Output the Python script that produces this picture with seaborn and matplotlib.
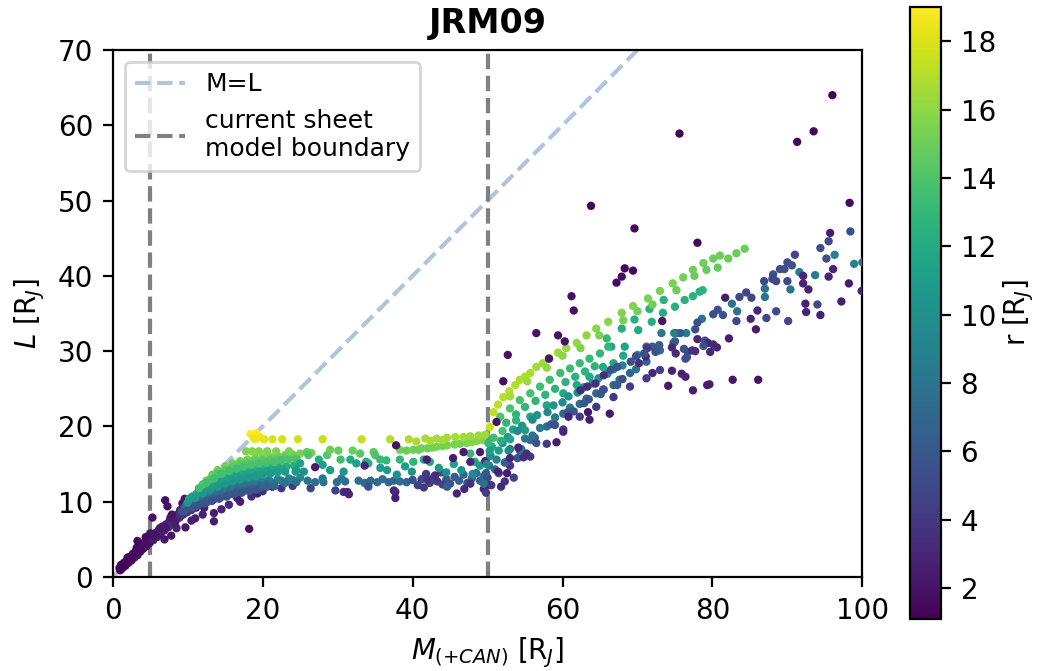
import matplotlib
matplotlib.use("Agg")
import matplotlib.pyplot as plt
import pandas as pd
import seaborn as sns
from matplotlib.colors import Normalize
from matplotlib.cm import ScalarMappable

# ---------------- data (M [RJ], L [RJ], r [RJ]) ----------------
TITLE = "JRM09"
R_MIN, R_MAX = 1.1, 19.0
boundary_M = [5, 50]
ref_line = [0, 70]
x_ticks = [0, 20, 40, 60, 80, 100]
y_ticks = [0, 10, 20, 30, 40, 50, 60, 70]
cbar_ticks = [2, 4, 6, 8, 10, 12, 14, 16, 18]

inner_diag = [(0.9,1.2,1.2),(1.1,1.6,1.3),(1.3,1.2,1.3),(1.5,1.9,1.3),(1.7,1.5,1.4),(1.9,2.3,1.4),
    (2.1,1.9,1.5),(2.3,2.7,1.5),(2.5,2.2,1.6),(2.7,3.1,1.6),(2.9,2.6,1.7),(3.1,3.5,1.7),(3.3,2.9,1.8),
    (3.5,3.9,1.8),(3.7,3.4,1.9),(3.9,4.4,1.9),(4.1,3.8,2.0),(4.3,4.7,2.0),(4.5,4.1,2.1),(4.7,5.0,2.1),
    (4.9,4.5,2.2),(5.1,5.4,2.2),(5.4,4.9,2.3),(5.6,5.8,2.3),(5.9,5.3,2.4),(6.1,6.2,2.4),(6.4,5.8,2.5),
    (6.6,6.7,2.6),(6.9,6.2,2.6),(7.1,7.0,2.7),(7.4,6.6,2.8),(7.6,7.5,2.9),(7.9,7.1,2.9),(8.1,7.9,3.0),
    (8.4,7.5,3.1),(8.6,8.3,3.2),(8.9,7.9,3.3),(9.1,8.7,3.4),(9.4,8.3,3.5),(9.6,9.0,3.6),(9.9,8.6,3.7),
    (10.2,9.4,3.8),(10.5,8.9,3.9),(10.8,9.7,4.1),(11.1,9.2,4.2),(11.4,10.1,4.3),(11.8,9.6,4.4),
    (12.1,10.4,4.5),(12.5,9.9,4.6),(12.9,10.7,4.8),(13.3,10.2,4.9),(13.7,10.9,5.0),
    (1.0,0.9,1.2),(1.4,1.7,1.3),(2.0,2.6,1.4),(2.6,2.7,1.5),(3.2,3.9,1.6),(3.8,3.6,1.7),(4.4,4.5,1.8),
    (5.0,5.8,1.9),(5.7,5.5,2.0),(6.3,6.5,2.1),(7.0,6.5,2.2),(7.7,7.9,2.3),(8.3,7.2,2.4),(9.0,8.9,2.5),
    (9.8,9.2,2.7),(10.6,9.8,2.9),(11.6,10.5,3.1)]

inner_scatter = [(3.3,4.8,1.5),(4.4,5.3,1.6),(5.3,7.9,1.7),(7.0,10.2,1.8),(7.3,9.4,1.9),(7.9,8.3,2.0),
    (9.3,9.8,2.1),(9.6,10.4,2.2),(7.8,5.5,2.2),(6.9,5.0,2.0),(9.7,6.6,2.3),(13.5,8.5,2.6),(13.5,7.4,2.5),
    (12.2,9.2,2.7),(11.0,7.8,2.6),(14.9,12.6,2.6),(15.4,12.2,2.8),(17.8,13.8,2.2),(16.6,10.5,2.5),
    (17.0,10.0,2.6),(19.3,11.1,2.4),(19.5,12.2,2.5),(21.3,12.0,2.3),(18.2,6.4,1.8),(17.7,13.1,2.4),
    (8.5,6.5,2.4),(10.5,7.5,2.6),(12.0,8.3,2.8),(14.5,9.0,3.0),(15.5,9.6,3.2),(16.0,11.2,3.5),
    (18.5,10.7,3.2),(20.0,11.4,3.5),(22.5,11.8,3.8),(24.0,12.1,4.0),(26.4,11.8,4.5)]

fan_green = [(12.5,12.8,15.0),(13.3,13.6,15.0),(14.0,14.2,15.0),(15.0,14.7,15.1),(16.0,15.1,15.1),
    (17.0,15.4,15.2),(18.0,15.6,15.2),(19.0,15.8,15.2),(20.0,15.9,15.3),(21.0,16.0,15.3),(22.0,16.1,15.3),
    (23.0,16.2,15.4),(24.0,16.3,15.4),(25.0,16.4,15.4),(26.5,16.5,15.5),
    (12.0,12.3,14.2),(13.0,13.0,14.2),(14.0,13.7,14.2),(15.0,14.2,14.3),(16.0,14.6,14.3),(17.0,15.0,14.3),
    (18.0,15.2,14.4),(19.0,15.4,14.4),(20.0,15.5,14.4),(21.0,15.6,14.5),(22.0,15.8,14.5),(23.0,15.9,14.5),
    (24.0,16.0,14.6),
    (11.5,11.8,13.5),(12.5,12.5,13.5),(13.5,13.1,13.5),(14.5,13.7,13.6),(15.5,14.1,13.6),(16.5,14.4,13.6),
    (17.5,14.7,13.7),(18.5,14.9,13.7),(19.5,15.1,13.7),(20.5,15.2,13.8),(21.5,15.3,13.8),(22.5,15.5,13.8),
    (23.5,15.6,13.9),(24.5,15.7,13.9)]

fan_teal = [(10.2,10.4,12.0),(11.2,11.1,12.0),(12.2,11.8,12.0),(13.2,12.3,12.1),(14.2,12.8,12.1),
    (15.2,13.2,12.1),(16.2,13.6,12.2),(17.2,13.9,12.2),(18.2,14.1,12.2),(19.2,14.3,12.3),(20.2,14.4,12.3),
    (21.2,14.5,12.3),(22.2,14.6,12.4),(23.2,14.7,12.4),(24.2,14.8,12.4),
    (10.6,10.7,11.2),(11.6,11.3,11.2),(12.6,11.9,11.2),(13.6,12.4,11.3),(14.6,12.8,11.3),(15.6,13.1,11.3),
    (16.6,13.4,11.4),(17.6,13.6,11.4),(18.6,13.8,11.4),(19.6,14.0,11.5),(20.6,14.1,11.5),(21.6,14.2,11.5),
    (22.6,14.4,11.6),
    (10.0,9.9,10.5),(11.0,10.5,10.5),(12.0,11.1,10.5),(13.0,11.6,10.6),(14.0,12.0,10.6),(15.0,12.4,10.6),
    (16.0,12.7,10.7),(17.0,13.0,10.7),(18.0,13.2,10.7),(19.0,13.4,10.8),(20.0,13.6,10.8),(21.0,13.7,10.8),
    (22.0,13.9,10.9),(23.0,14.0,10.9),(24.5,14.2,10.9)]

fan_blue = [(9.8,9.5,9.0),(10.8,10.0,9.0),(11.8,10.5,9.0),(12.8,11.0,9.1),(13.8,11.4,9.1),(14.8,11.8,9.1),
    (15.8,12.1,9.2),(16.8,12.3,9.2),(17.8,12.5,9.2),(18.8,12.7,9.3),(19.8,12.8,9.3),(20.8,12.9,9.3),
    (22.0,13.0,9.4),(23.5,13.1,9.4),(25.0,13.2,9.4),
    (10.0,9.4,8.2),(11.0,9.9,8.2),(12.0,10.3,8.2),(13.0,10.8,8.3),(14.0,11.2,8.3),(15.0,11.5,8.3),
    (16.0,11.8,8.4),(17.0,12.1,8.4),(18.0,12.3,8.4),(19.0,12.4,8.5),(20.0,12.6,8.5),(21.0,12.7,8.5),
    (22.5,12.8,8.6),(24.0,12.9,8.6),
    (9.5,9.1,7.5),(10.5,9.6,7.5),(11.5,10.0,7.5),(12.5,10.4,7.6),(13.5,10.8,7.6),(14.5,11.1,7.6),
    (15.5,11.4,7.7),(16.5,11.7,7.7),(17.5,11.9,7.7),(18.5,12.1,7.8),(19.5,12.2,7.8),(20.5,12.3,7.8),
    (21.5,12.4,7.9),(23.0,12.5,7.9),(24.5,12.6,7.9),
    (9.6,8.8,6.5),(10.6,9.3,6.5),(11.6,9.7,6.5),(12.6,10.1,6.6),(13.6,10.4,6.6),(14.6,10.7,6.6),
    (15.6,11.0,6.7),(16.6,11.3,6.7),(17.6,11.5,6.7),(18.6,11.7,6.8),(19.6,11.9,6.8),(20.6,12.0,6.8),
    (21.6,12.1,6.9),
    (9.2,8.7,5.5),(10.2,9.1,5.5),(11.2,9.5,5.5),(12.2,9.8,5.6),(13.2,10.1,5.6),(14.2,10.4,5.6),
    (15.2,10.7,5.7),(16.2,11.0,5.7),(17.2,11.2,5.7),(18.2,11.4,5.8),(19.2,11.6,5.8)]

plateau_yellow = [(18.4,19.0,18.9),(18.8,18.5,18.7),(19.2,19.1,19.0),(19.6,18.6,18.6),(19.0,18.3,18.5),
    (20.2,18.3,18.2),(21.3,18.3,18.0),(22.6,18.3,17.9),(24.7,18.3,17.7),(28.0,18.3,17.5),(33.2,18.3,17.3),
    (37.0,18.3,17.0),(39.5,18.3,16.9),(40.5,18.0,16.8),(41.7,18.4,16.8),(42.4,18.1,16.7),(43.2,18.4,16.7),
    (44.0,18.2,16.6),(44.6,18.5,16.6),(45.7,18.6,16.5),(46.8,18.6,16.5),(47.7,18.7,16.4),(48.8,18.8,16.4),
    (49.7,18.9,16.3)]

plateau_green = [(17.8,16.7,15.6),(18.6,16.7,15.7),(19.5,16.7,15.6),(20.6,16.7,15.5),(21.8,16.7,15.5),
    (23.5,16.7,15.4),(25.9,16.6,14.5),(26.1,16.2,14.0),(28.6,16.2,14.2),(30.1,16.8,14.8),(30.4,15.6,13.5),
    (33.0,16.4,14.3),(34.8,16.6,14.6),(35.0,16.2,14.0),(34.1,15.1,12.5),(35.7,15.6,13.2),(36.5,15.5,13.0),
    (38.3,15.6,13.0),(40.1,15.3,12.8),(32.0,16.8,14.9),(29.0,16.9,15.0),
    (38.3,16.9,15.2),(39.2,16.8,15.0),(40.1,16.9,15.1),(40.8,16.9,15.0),(41.2,17.1,15.2),(42.0,17.1,15.1),
    (42.6,17.2,15.2),(43.2,17.3,15.3),(44.0,17.4,15.2),(44.6,17.5,15.4),(45.6,17.6,15.5),(46.3,17.7,15.5),
    (47.2,17.8,15.6),(47.9,17.9,15.6),(48.6,18.1,15.7),(49.3,18.2,15.8)]

plateau_teal = [(24.4,14.0,10.5),(25.5,14.0,10.2),(25.0,15.1,11.5),(27.5,15.6,12.2),(29.0,14.2,10.8),
    (30.8,14.0,10.5),(31.7,15.6,12.0),(36.6,14.2,10.8),(35.7,14.5,11.0),(37.9,13.6,10.0),(39.9,14.0,10.3),
    (41.5,15.6,11.8),(42.3,15.3,11.5),(43.5,14.5,10.8),(45.5,15.0,11.2),(47.7,16.4,13.0),(48.3,15.3,11.5),
    (49.0,14.8,11.0),(44.5,13.9,9.8),(46.5,14.2,10.2),(48.0,13.7,9.5),(28.0,14.9,11.2),(32.5,15.1,11.4),
    (33.8,15.3,11.6),(39.0,14.7,11.0)]

plateau_blue = [(26.0,12.8,8.0),(27.0,12.6,7.6),(28.1,12.6,7.7),(28.0,13.1,8.3),(29.9,12.6,7.5),
    (31.0,12.7,7.4),(32.8,12.8,7.6),(34.4,12.8,7.3),(35.3,12.6,7.2),(36.0,13.0,7.8),(36.8,12.6,7.1),
    (37.5,12.8,7.0),(38.3,12.7,7.2),(39.2,12.6,6.8),(30.5,13.1,8.0),(33.6,12.5,7.0),
    (40.7,12.2,4.5),(41.2,13.0,5.0),(41.8,13.7,4.2),(42.3,12.5,4.8),(42.8,13.2,5.2),(43.3,12.7,4.0),
    (43.8,13.9,5.5),(44.5,13.0,6.0),(45.0,12.4,5.5),(45.6,13.3,6.2),(46.2,12.8,6.5),(46.8,13.6,6.8),
    (47.3,12.5,5.8),(47.9,13.1,7.0),(48.5,13.8,7.5),(49.0,12.8,6.5),(49.5,13.4,7.2),(40.0,12.9,5.5),
    (41.5,11.9,4.0),(42.0,12.9,3.8),(43.0,13.5,3.5),(44.0,12.3,4.5)]

plateau_purple = [(29.7,11.5,4.5),(30.8,11.3,3.5),(31.5,11.0,3.0),(34.1,12.0,5.5),(37.7,11.3,3.0),
    (37.7,10.5,2.5),(37.8,17.5,2.0),(41.9,15.6,2.5),(45.4,15.8,2.5),(46.8,16.6,2.3),(45.9,11.1,3.0),
    (46.9,11.7,3.2),(47.7,12.4,3.5),(44.6,12.0,6.5),(47.7,15.3,3.0),(49.7,15.4,3.0),(27.0,14.6,2.5),
    (33.6,14.8,3.0),(31.3,11.3,3.0),(37.5,11.5,3.2),(50.1,12.2,2.5),(49.0,16.6,2.5)]

rise_lime = [(50.3,19.9,17.4),(50.8,21.9,17.3),(51.4,22.9,17.2),(52.1,23.9,17.1),(52.9,24.7,17.0),
    (53.7,25.5,16.9),(54.3,26.2,16.8),(55.0,26.6,16.8),(55.7,27.1,16.7),(56.5,27.9,16.6),(57.4,28.4,16.5),
    (58.2,29.1,16.4),(59.4,29.8,16.3),(60.5,30.4,16.2),(61.9,31.1,16.1),(63.2,32.1,16.0),(64.5,33.0,15.9),
    (66.1,33.9,15.8),(67.9,35.1,15.7),(69.4,36.0,15.6),(71.4,37.0,15.5),(73.0,38.0,15.4),(74.7,39.0,15.3),
    (76.1,39.8,15.2),(77.4,40.8,15.1),(78.8,41.7,15.0),(80.1,42.3,15.0),(81.0,42.7,15.0),(82.1,42.3,14.9),
    (83.2,43.0,14.9),(84.3,43.6,14.9),
    (53.0,24.0,16.6),(55.3,26.0,16.3),(57.9,27.8,16.0),(60.0,29.4,15.8),(62.4,30.4,15.6),(64.9,32.1,15.5),
    (68.1,34.1,15.3),(70.0,35.3,15.2),(72.0,36.2,15.1),(75.2,38.1,15.0),(77.6,40.0,14.9),(79.2,40.8,14.8),
    (80.7,41.1,14.8)]

rise_green = [(51.7,21.3,14.0),(53.0,22.4,13.9),(54.3,23.5,13.8),(55.7,24.4,13.7),(57.0,25.3,13.6),
    (58.3,26.2,13.5),(59.7,27.1,13.4),(61.0,27.7,13.3),(62.3,28.4,13.2),(63.6,29.0,13.1),(65.0,29.7,13.0),
    (66.1,30.6,12.9),(65.9,31.7,13.0),
    (52.5,20.5,12.8),(53.8,21.6,12.8),(55.0,22.6,12.8),(56.4,23.4,12.7),(57.7,24.2,12.7),(59.0,25.0,12.7),
    (60.4,25.9,12.6),(61.7,26.6,12.6),(63.0,27.3,12.6),(64.3,28.0,12.5)]

rise_teal = [(53.4,19.6,11.5),(55.7,21.3,11.6),(57.9,22.8,11.7),(60.1,24.4,11.8),(61.9,25.5,11.9),
    (63.6,26.6,12.0),(65.4,27.9,12.0),(66.8,28.4,12.0),(68.1,29.4,11.8),(68.3,30.6,11.5),(66.5,30.6,11.3),
    (70.1,32.8,12.0),(71.9,33.9,12.1),(73.4,35.1,12.2),(75.0,35.9,12.3),(67.9,33.0,12.2),(69.6,34.2,12.3),
    (71.6,35.6,12.4),(73.5,36.8,12.5),(76.3,36.8,12.5),(77.4,37.3,12.6),(78.3,37.9,12.6),(78.7,38.1,12.7),
    (52.7,18.6,10.5),(54.6,20.1,10.5),(56.6,21.5,10.5),(58.8,22.8,10.4),(60.8,24.0,10.4),(62.8,25.2,10.4),
    (64.8,26.4,10.3),(66.8,27.6,10.3),
    (52.0,17.8,9.5),(54.0,19.4,9.6),(56.0,20.9,9.5),(58.0,21.9,9.4),(60.0,23.2,9.6),(62.0,24.5,9.5),
    (64.0,25.7,9.6),(66.0,27.0,9.5),(68.0,28.1,9.4),(70.0,29.5,9.3)]

rise_blue = [(55.7,18.2,7.5),(57.9,20.0,7.4),(60.1,21.7,7.3),(62.3,23.0,7.2),(64.5,24.4,7.1),
    (66.8,25.5,7.0),(69.0,27.1,6.9),(71.2,28.6,6.8),(71.2,30.6,7.5),(73.0,30.1,7.6),(75.2,32.4,8.5),
    (73.2,32.4,8.2),(74.8,31.1,6.5),
    (53.0,17.0,8.3),(55.0,18.4,8.3),(57.0,19.8,8.2),(59.0,21.2,8.2),(61.0,22.5,8.2),(63.2,23.7,8.1),
    (65.4,24.9,8.1),(67.6,26.2,8.0),(69.8,27.6,8.0),
    (52.3,15.2,6.3),(54.3,16.8,6.3),(56.3,18.5,6.2),(58.5,20.3,6.2),(60.7,21.9,6.2),(62.9,23.1,6.1),
    (65.1,24.3,6.1),(67.3,25.5,6.0),
    (51.5,13.8,5.5),(54.0,15.8,5.6),(56.5,17.8,5.6),(59.0,20.2,5.5),(61.5,22.0,5.7),(63.5,23.6,5.6),
    (65.5,24.9,5.5),(68.0,26.3,5.4),
    (53.0,14.8,4.0),(55.7,16.0,4.0),(57.9,17.7,4.1),(60.1,19.6,4.0),(62.3,21.3,4.2),(64.5,22.6,4.1),
    (66.8,23.9,4.0),(69.0,25.3,4.2),(71.2,26.4,4.3),(73.0,27.5,4.5)]

rise_cluster = [(49.5,11.7,3.0),(50.0,13.2,5.0),(50.2,14.8,8.0),(50.4,16.1,10.0),(50.6,17.3,12.0),
    (50.8,18.5,13.5),(50.5,12.2,4.0),(51.0,14.3,7.0),(51.2,15.6,9.0),(51.5,16.8,11.0),(51.8,18.1,12.5),
    (52.0,19.4,13.8),(52.5,15.3,6.5),(52.8,16.8,9.5),(53.0,18.3,11.5),(53.5,13.2,4.5),(52.3,12.7,3.5),
    (51.8,12.0,3.2),(49.8,13.8,6.0),(50.3,16.8,11.0),(49.5,12.4,8.0),(49.8,11.2,4.0),(49.9,15.0,9.5),
    (50.1,17.8,13.0),(54.5,17.0,8.5),(55.0,19.5,11.0),(56.0,18.8,8.0),(53.8,20.8,12.8)]

rise_purple = [(56.5,32.4,2.0),(59.4,32.1,2.0),(52.7,29.5,1.8),(52.1,26.0,1.7),(63.4,21.9,2.2),
    (66.3,21.7,2.2),(63.6,20.9,2.5),(60.8,21.3,2.8),(60.1,19.3,3.0),(59.2,17.9,2.5),(55.2,16.4,3.2),
    (53.0,15.8,3.0),(52.6,13.8,2.6),(51.4,14.0,2.8),(61.2,37.3,1.8),(61.5,35.4,1.8),(67.2,39.1,1.6),
    (67.9,39.9,1.6),(68.3,41.0,1.5),(69.4,40.7,1.5),(60.3,31.3,2.0),(58.2,29.0,2.2),(54.1,17.2,3.0),
    (54.8,15.9,3.5),(51.2,20.6,2.0)]

outer_band = [(95.7,45.7,2.5),(98.4,45.9,5.5),(94.4,43.7,5.5),(95.5,44.6,5.0),(96.3,42.8,9.0),
    (98.9,41.6,9.0),(100.0,41.8,8.0),(91.0,42.8,5.0),(95.2,42.3,5.5),(96.1,40.9,3.0),(95.5,39.9,3.0),
    (93.7,40.1,8.5),(91.6,40.5,8.5),(98.2,39.0,2.5),(92.1,40.0,3.0),(92.1,39.0,3.0),(92.8,38.2,2.8),
    (90.4,38.2,8.0),(90.0,39.3,5.0),(90.0,41.8,5.5),(90.6,41.4,5.5),(89.0,40.9,5.5),(89.6,40.9,5.5),
    (88.1,40.2,5.5),(88.0,39.6,5.0),(88.5,39.3,5.0),(86.9,39.3,5.0),(87.0,38.3,8.0),(87.0,37.2,8.0),
    (92.4,36.3,2.8),(94.0,36.2,5.0),(92.5,35.2,2.8),(94.4,34.8,2.8),(97.2,36.6,2.5),(84.5,37.8,5.0),
    (85.2,37.1,5.0),(83.6,37.2,5.0),(81.7,37.1,2.5),(82.6,36.3,8.0),(83.3,35.3,8.0),(86.0,35.4,3.0),
    (88.5,35.3,5.0),(87.2,34.4,5.0),(85.1,34.3,3.0),(83.2,34.0,5.0),(85.8,32.9,2.5),(90.1,34.0,5.0),
    (80.7,35.5,5.5),(80.1,34.9,5.5),(81.4,34.8,5.5),(78.6,34.3,8.0),(78.0,33.8,5.5),(77.7,32.9,5.5),
    (76.5,32.4,8.5),(75.7,32.4,6.0),(74.9,32.4,8.5),(78.0,31.6,3.0),(79.0,31.4,5.5),(79.4,31.1,3.0),
    (80.1,30.9,3.0),(80.6,30.5,3.0),(78.8,30.7,5.5),(82.2,31.7,2.5),(75.0,31.3,6.0),(74.6,30.5,3.2),
    (75.1,29.7,3.2),(76.2,30.3,5.5),(76.7,29.9,5.5),(77.3,30.1,3.5),(77.7,30.0,3.5),(76.6,29.2,5.5),
    (76.4,29.0,5.5),(79.7,29.9,3.0),(74.6,27.4,2.8),(75.9,27.0,2.8),(76.4,26.6,2.8),(79.3,25.5,2.5),
    (79.6,25.6,2.5),(77.4,24.8,2.5),(82.7,26.2,2.2),(86.1,26.2,2.0),(74.1,25.4,2.2),(73.3,34.0,2.0),
    (72.0,27.1,3.0),(71.1,29.3,3.0),(72.9,30.8,6.0),(72.0,30.6,6.0),(71.3,30.4,4.0),(72.4,29.9,5.5),
    (70.9,29.7,5.5),(69.8,29.3,5.5),(69.1,28.6,5.5),(70.2,28.4,3.5),(67.3,27.9,5.5),(66.4,27.5,5.5),
    (65.5,26.8,3.5),(64.4,25.7,3.5),(63.3,25.3,3.2),(62.4,24.8,3.2),(99.9,38.0,3.0)]

outliers = [(96.0,64.0,1.3),(93.5,59.2,1.4),(91.3,57.8,1.4),(98.3,49.7,1.5),(75.6,58.9,1.3),
    (63.8,49.3,1.4),(69.6,46.3,1.4),(78.0,44.4,1.5)]

groups = [inner_diag, inner_scatter, fan_blue, fan_teal, fan_green, plateau_blue, plateau_teal,
          plateau_green, plateau_yellow, plateau_purple, rise_blue, rise_teal, rise_green, rise_lime,
          rise_cluster, rise_purple, outer_band, outliers]
df = pd.DataFrame([p for g in groups for p in g], columns=["M", "L", "r"])

# ---------------- figure ----------------
fig = plt.figure(figsize=(5.195, 3.355), dpi=200)
ax = fig.add_axes([0.1085, 0.140, 0.7215, 0.7855])
cax = fig.add_axes([0.876, 0.0775, 0.0298, 0.912])

norm = Normalize(vmin=R_MIN, vmax=R_MAX)
sns.scatterplot(data=df, x="M", y="L", hue="r", palette="viridis", hue_norm=norm,
                s=9, linewidth=0, legend=False, ax=ax, zorder=3)

ax.plot(ref_line, ref_line, ls="--", color="lightsteelblue", lw=1.5, label="M=L", zorder=2)
for i, xb in enumerate(boundary_M):
    ax.axvline(xb, ls="--", color="gray", lw=1.5, zorder=2,
               label="current sheet\nmodel boundary" if i == 0 else None)

ax.set_xlim(0, 100)
ax.set_ylim(0, 70)
ax.set_xticks(x_ticks)
ax.set_yticks(y_ticks)
ax.set_xlabel(r"$M_{(+CAN)}$ [R$_J$]")
ax.set_ylabel(r"$L$ [R$_J$]")
ax.set_title(TITLE, fontweight="bold", fontsize="large")
ax.legend(loc="upper left", fontsize=9)

sm = ScalarMappable(norm=norm, cmap="viridis")
cb = fig.colorbar(sm, cax=cax)
cb.set_ticks(cbar_ticks)
cb.set_label(r"r [R$_J$]", labelpad=2)

fig.savefig("out.png", dpi=200)
